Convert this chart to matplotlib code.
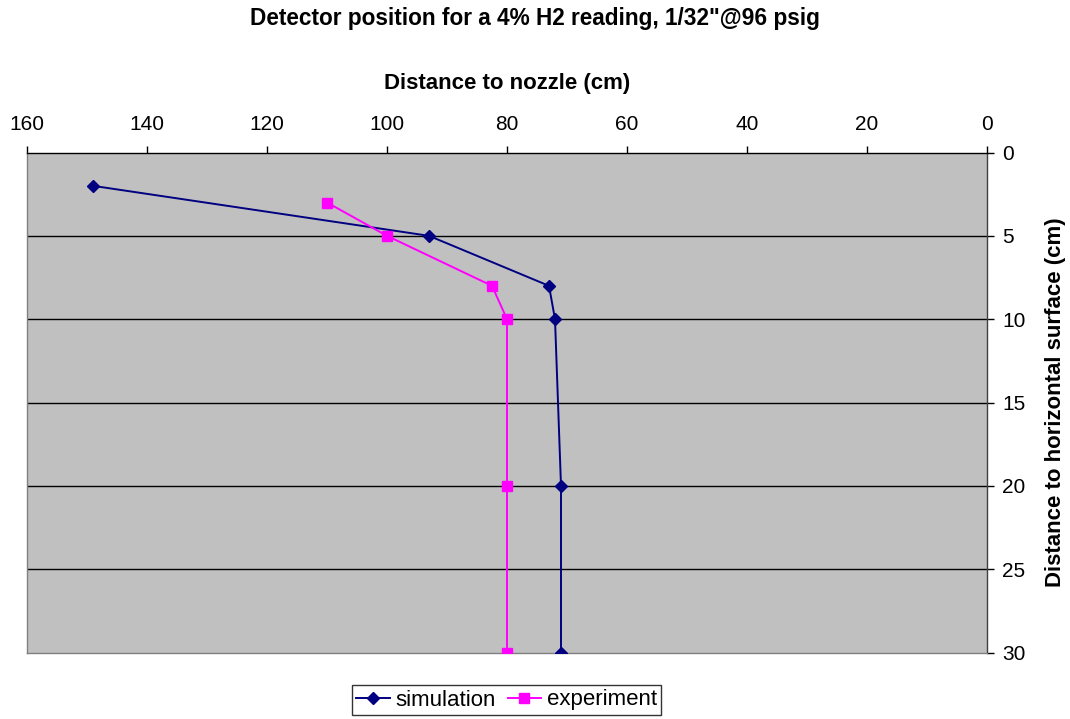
import matplotlib
matplotlib.use("Agg")
import matplotlib.pyplot as plt

plt.rcParams['font.family'] = ['Liberation Sans', 'DejaVu Sans']

# data
sim_dist = [149, 93, 73, 72, 71, 71]
sim_height = [2, 5, 8, 10, 20, 30]
exp_dist = [110, 100, 82.5, 80, 80, 80]
exp_height = [3, 5, 8, 10, 20, 30]

x_ticks = [160, 140, 120, 100, 80, 60, 40, 20, 0]
y_ticks = [0, 5, 10, 15, 20, 25, 30]

fig = plt.figure(figsize=(10.7, 7.19), dpi=100)
ax = fig.add_axes([27/1070, 1 - 652.5/719, 960/1070, 500/719])
ax.set_facecolor('#C0C0C0')

ax.plot(sim_dist, sim_height, color='#000080', marker='D', markersize=6,
        linewidth=1.4, label='simulation', zorder=3)
ax.plot(exp_dist, exp_height, color='#FF00FF', marker='s', markersize=6.5,
        linewidth=1.4, label='experiment', zorder=3)

ax.set_xlim(160, 0)
ax.set_ylim(30, 0)
ax.set_xticks(x_ticks)
ax.set_yticks(y_ticks)
ax.xaxis.tick_top()
ax.xaxis.set_label_position('top')
ax.yaxis.tick_right()
ax.yaxis.set_label_position('right')
ax.tick_params(axis='both', labelsize=15, direction='out', length=5,
               width=1, color='black')
ax.tick_params(axis='x', pad=8.5)
ax.tick_params(axis='y', pad=6)

for y in [5, 10, 15, 20, 25]:
    ax.axhline(y, color='black', linewidth=1, zorder=1)

for side in ['left', 'bottom']:
    ax.spines[side].set_color('#808080')
ax.spines['top'].set_color('black')
ax.spines['right'].set_color('#404040')
for s in ax.spines.values():
    s.set_linewidth(1)

ax.set_xlabel('Distance to nozzle (cm)', fontsize=16, fontweight='bold')
ax.xaxis.set_label_coords(0.5, 1 + 63.5/500)
ax.xaxis.label.set_verticalalignment('baseline')
ax.set_ylabel('Distance to horizontal surface (cm)', fontsize=16, fontweight='bold')
ax.yaxis.set_label_coords((1055 - 27)/960, 0.5)
ax.yaxis.label.set_verticalalignment('center')

fig.text(0.5, 1 - 25/719, 'Detector position for a 4% H2 reading, 1/32"@96 psig',
         fontsize=16.3, fontweight='bold', ha='center', va='baseline')

leg = fig.legend(loc='center', bbox_to_anchor=(506.5/1070, 1 - 700/719), ncol=2,
                 fontsize=16, frameon=True, fancybox=False, edgecolor='black',
                 borderpad=0.2, handlelength=1.5, handletextpad=0.25,
                 columnspacing=0.55, borderaxespad=0)
leg.get_frame().set_linewidth(1)

fig.savefig('out.png', dpi=100)
